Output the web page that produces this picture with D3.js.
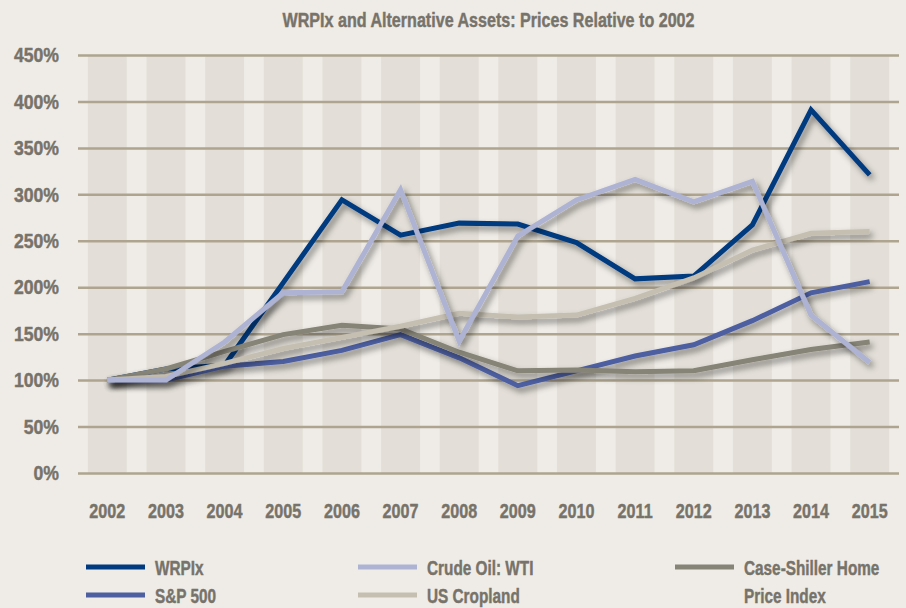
<!DOCTYPE html>
<html>
<head>
<meta charset="utf-8">
<script src="https://cdnjs.cloudflare.com/ajax/libs/d3/7.8.5/d3.min.js"></script>
<style>
  body { margin: 0; background: #efece7; }
  text { font-family: "Liberation Sans", Arial, sans-serif; font-weight: bold; fill: #77736a; stroke: #77736a; stroke-width: 0.45px; }
</style>
</head>
<body>
<div id="chart"></div>
<script>
// chart data (percent of 2002 price)
var years = ["2002", "2003", "2004", "2005", "2006", "2007", "2008", "2009", "2010", "2011", "2012", "2013", "2014", "2015"];
var yTicks = [0, 50, 100, 150, 200, 250, 300, 350, 400, 450];

var wrpix = [100, 112, 116, 205, 294, 256, 269, 268, 248, 209, 212, 267, 391, 321];
var sp500 = [100, 100, 115, 120, 132, 149, 124, 94, 110, 126, 138, 164, 194, 206];
var crudeOil = [100, 100, 141, 194, 195, 305, 142, 255, 294, 316, 292, 314, 170, 119];
var caseShiller = [100, 112, 131, 149, 159, 155, 130, 110, 111, 109, 110, 122, 133, 141];
var cropland = [100, 104, 118, 134, 146, 158, 172, 168, 170, 188, 210, 240, 258, 260];

var svgWidth = 906;
var svgHeight = 608;

var margin = { top: 55, right: 7, bottom: 135, left: 78 };
var width = svgWidth - margin.left - margin.right;
var height = svgHeight - margin.top - margin.bottom;

// the reference uses a narrow gothic face, so squeeze the text to its width
function condense(sel, k) {
  sel.each(function() {
    var w = this.getComputedTextLength();
    d3.select(this)
      .attr("textLength", w * k)
      .attr("lengthAdjust", "spacingAndGlyphs");
  });
}

var svg = d3.select("#chart")
  .append("svg")
  .attr("width", svgWidth)
  .attr("height", svgHeight);

// soft drop shadow under the lines
var filter = svg.append("defs").append("filter")
  .attr("id", "shadow")
  .attr("x", "-10%").attr("y", "-10%")
  .attr("width", "120%").attr("height", "130%");
filter.append("feDropShadow")
  .attr("dx", 3)
  .attr("dy", 4)
  .attr("stdDeviation", 3)
  .attr("flood-color", "#000")
  .attr("flood-opacity", 0.45);

var title = svg.append("text")
  .attr("x", margin.left + width / 2)
  .attr("y", 27)
  .attr("text-anchor", "middle")
  .style("font-size", "21px")
  .text("WRPIx and Alternative Assets: Prices Relative to 2002");
title.attr("textLength", 412).attr("lengthAdjust", "spacingAndGlyphs");

var chartGroup = svg.append("g")
  .attr("transform", `translate(${margin.left}, ${margin.top})`);

// scales
var xBand = d3.scaleBand()
  .domain(years)
  .range([0, width])
  .paddingInner(0.335)
  .paddingOuter(0.1675);

var yLinearScale = d3.scaleLinear()
  .domain([0, 450])
  .range([height, 0]);

var xCenter = d => xBand(d) + xBand.bandwidth() / 2;

// alternating column bands
chartGroup.selectAll("rect.band")
  .data(years)
  .enter()
  .append("rect")
  .attr("class", "band")
  .attr("x", d => xBand(d))
  .attr("y", 0)
  .attr("width", xBand.bandwidth())
  .attr("height", height)
  .attr("fill", "#e3dfd8");

// horizontal gridlines + y labels
var leftAxis = d3.axisLeft(yLinearScale)
  .tickValues(yTicks)
  .tickSize(-width)
  .tickPadding(19)
  .tickFormat(d => d + "%");

var yAxisGroup = chartGroup.append("g").call(leftAxis);
yAxisGroup.attr("font-family", null).attr("font-size", null);
yAxisGroup.select(".domain").remove();
yAxisGroup.selectAll(".tick line")
  .attr("stroke", "#aea48f")
  .attr("stroke-width", 2.5);
yAxisGroup.selectAll(".tick text")
  .attr("fill", "#77736a")
  .style("font-size", "21px")
  .call(condense, 0.84);

// x labels
var bottomAxis = d3.axisBottom(xBand).tickSize(0).tickPadding(30);
var xAxisGroup = chartGroup.append("g")
  .attr("transform", `translate(0, ${height})`)
  .call(bottomAxis);
xAxisGroup.attr("font-family", null).attr("font-size", null);
xAxisGroup.select(".domain").remove();
xAxisGroup.selectAll(".tick text")
  .attr("fill", "#77736a")
  .style("font-size", "21px")
  .call(condense, 0.77);

// lines
var series = [
  { name: "WRPIx", values: wrpix, color: "#003a80" },
  { name: "S&P 500", values: sp500, color: "#4d5fa1" },
  { name: "Case-Shiller", values: caseShiller, color: "#868377" },
  { name: "US Cropland", values: cropland, color: "#c5bfb2" },
  { name: "Crude Oil: WTI", values: crudeOil, color: "#aeb3d3" }
];

var line = d3.line()
  .x((d, i) => xCenter(years[i]))
  .y(d => yLinearScale(d));

chartGroup.selectAll("path.series")
  .data(series)
  .enter()
  .append("path")
  .attr("class", "series")
  .attr("d", d => line(d.values))
  .attr("fill", "none")
  .attr("stroke", d => d.color)
  .attr("stroke-width", 5)
  .attr("stroke-linejoin", "miter")
  .attr("stroke-linecap", "butt")
  .attr("filter", "url(#shadow)");

// legend
var legendItems = [
  { label: ["WRPIx"], color: "#003a80", x: 86, y: 567 },
  { label: ["S&P 500"], color: "#4d5fa1", x: 86, y: 595 },
  { label: ["Crude Oil: WTI"], color: "#aeb3d3", x: 358, y: 567 },
  { label: ["US Cropland"], color: "#c5bfb2", x: 358, y: 595 },
  { label: ["Case-Shiller Home", "Price Index"], color: "#868377", x: 675, y: 567 }
];

var legend = svg.selectAll("g.legend")
  .data(legendItems)
  .enter()
  .append("g")
  .attr("class", "legend")
  .attr("transform", d => `translate(${d.x}, ${d.y})`);

legend.append("line")
  .attr("x1", 0)
  .attr("x2", 59)
  .attr("stroke", d => d.color)
  .attr("stroke-width", 5);

// squeeze legend labels with a transform so their box stays honest
legend.selectAll("text")
  .data(d => d.label)
  .enter()
  .append("text")
  .attr("transform", (d, i) => `translate(69, ${i * 28}) scale(0.73, 1)`)
  .attr("dy", "0.4em")
  .style("font-size", "21px")
  .text(d => d);
</script>
</body>
</html>
